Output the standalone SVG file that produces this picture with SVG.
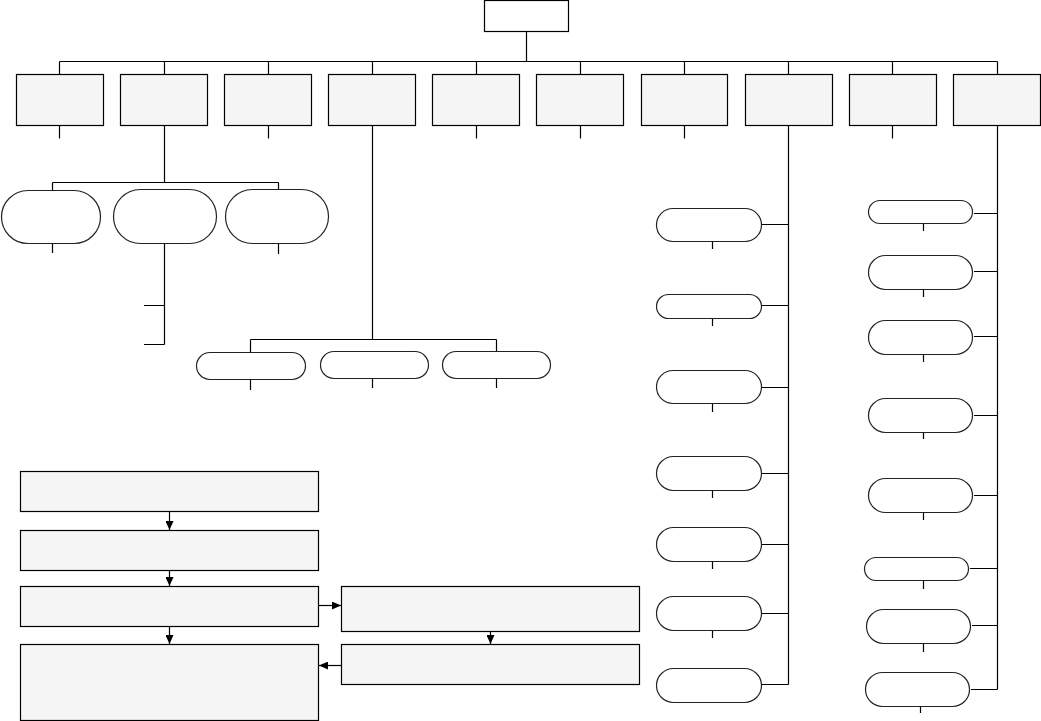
<svg xmlns="http://www.w3.org/2000/svg" width="1041" height="721" viewBox="0 0 1041 721">
<style>
.box{fill:#f5f5f5;stroke:#000;stroke-width:1.2}
.root{fill:#fff;stroke:#000;stroke-width:1.2}
.pill{fill:#fff;stroke:#222;stroke-width:1.2}
.ln{fill:none;stroke:#000;stroke-width:1.2}
</style>
<defs>
<marker id="ah" markerUnits="userSpaceOnUse" markerWidth="10" markerHeight="8" refX="9" refY="4" orient="auto">
<path d="M0,0 L9,4 L0,8 z" fill="#000"/>
</marker>
</defs>
<g id="connectors">
<path class="ln" d="M526.5,31.5V61.5 M59.5,61.5H997.5"/>
<path class="ln" d="M59.5,61.5V74.5 M164.5,61.5V74.5 M268.5,61.5V74.5 M372.5,61.5V74.5 M476.5,61.5V74.5 M580.5,61.5V74.5 M684.5,61.5V74.5 M788.5,61.5V74.5 M892.5,61.5V74.5 M997.5,61.5V74.5"/>
<path class="ln" d="M59.5,125.5V138.5 M268.5,125.5V138.5 M476.5,125.5V138.5 M580.5,125.5V138.5 M684.5,125.5V138.5 M892.5,125.5V138.5"/>
<path class="ln" d="M164.5,125.5V182.5 M52.5,182.5H278.5 M52.5,182.5V190.5 M278.5,182.5V189.5"/>
<path class="ln" d="M52.5,243.5V253 M278.5,243.5V254 M164.5,243.5V344.5 M144,305.5H164.5 M144,344.5H164.5"/>
<path class="ln" d="M372.5,125.5V339.5 M250.5,339.5H496.5 M250.5,339.5V352.5 M496.5,339.5V351.5 M250.5,379.5V390 M372.5,378.5V388 M496.5,378.5V388"/>
<path class="ln" d="M788.5,125.5V684.5 M762,224.5H788.5 M762,305.5H788.5 M762,387.5H788.5 M762,473.5H788.5 M762,544.5H788.5 M762,613.5H788.5 M762,684.5H788.5"/>
<path class="ln" d="M712.5,241.5V249 M712.5,318.5V326 M712.5,403.5V412 M712.5,490.5V498 M712.5,561.5V569 M712.5,630.5V638"/>
<path class="ln" d="M997.5,125.5V689.5 M974,213.5H997.5 M974,271.5H997.5 M974,336.5H997.5 M974,415.5H997.5 M974,495.5H997.5 M970,568.5H997.5 M972,625.5H997.5 M971,689.5H997.5"/>
<path class="ln" d="M923.5,223.5V231 M923.5,289.5V297 M923.5,354.5V362 M923.5,432.5V439 M923.5,512.5V520 M923.5,580.5V589 M923.5,643.5V652 M920.5,706.5V713"/>
<path class="ln" d="M169.5,511.5V530" marker-end="url(#ah)"/>
<path class="ln" d="M169.5,570.5V586" marker-end="url(#ah)"/>
<path class="ln" d="M169.5,626.5V644" marker-end="url(#ah)"/>
<path class="ln" d="M318.5,605.5H341" marker-end="url(#ah)"/>
<path class="ln" d="M490.5,627V644" marker-end="url(#ah)"/>
<path class="ln" d="M341.5,665.5H319" marker-end="url(#ah)"/>
</g>
<g id="root"><rect class="root" x="484.5" y="0.5" width="84" height="31"/></g>
<g id="top-boxes">
<g id="t1"><rect class="box" x="16.5" y="74.5" width="87" height="51"/></g>
<g id="t2"><rect class="box" x="120.5" y="74.5" width="87" height="51"/></g>
<g id="t3"><rect class="box" x="224.5" y="74.5" width="87" height="51"/></g>
<g id="t4"><rect class="box" x="328.5" y="74.5" width="87" height="51"/></g>
<g id="t5"><rect class="box" x="432.5" y="74.5" width="87" height="51"/></g>
<g id="t6"><rect class="box" x="536.5" y="74.5" width="87" height="51"/></g>
<g id="t7"><rect class="box" x="641.5" y="74.5" width="86" height="51"/></g>
<g id="t8"><rect class="box" x="745.5" y="74.5" width="87" height="51"/></g>
<g id="t9"><rect class="box" x="849.5" y="74.5" width="87" height="51"/></g>
<g id="t10"><rect class="box" x="953.5" y="74.5" width="87" height="51"/></g>
</g>
<g id="b2-children">
<g id="p2a"><rect class="pill" x="1.5" y="190.5" width="99" height="53" rx="26.5"/></g>
<g id="p2b"><rect class="pill" x="113.5" y="189.5" width="103" height="54" rx="27"/></g>
<g id="p2c"><rect class="pill" x="225.5" y="189.5" width="103" height="54" rx="27"/></g>
</g>
<g id="b4-children">
<g id="p4a"><rect class="pill" x="196.5" y="352.5" width="109" height="27" rx="13.5"/></g>
<g id="p4b"><rect class="pill" x="320.5" y="351.5" width="108" height="27" rx="13.5"/></g>
<g id="p4c"><rect class="pill" x="442.5" y="351.5" width="108" height="27" rx="13.5"/></g>
</g>
<g id="b8-children">
<g id="p8a"><rect class="pill" x="656.5" y="208.5" width="105" height="33" rx="16.5"/></g>
<g id="p8b"><rect class="pill" x="656.5" y="294.5" width="105" height="24" rx="12"/></g>
<g id="p8c"><rect class="pill" x="656.5" y="370.5" width="105" height="33" rx="16.5"/></g>
<g id="p8d"><rect class="pill" x="656.5" y="456.5" width="105" height="34" rx="17"/></g>
<g id="p8e"><rect class="pill" x="656.5" y="527.5" width="105" height="34" rx="17"/></g>
<g id="p8f"><rect class="pill" x="656.5" y="596.5" width="105" height="34" rx="17"/></g>
<g id="p8g"><rect class="pill" x="656.5" y="668.5" width="105" height="34" rx="17"/></g>
</g>
<g id="b10-children">
<g id="p10a"><rect class="pill" x="868.5" y="200.5" width="104" height="23" rx="11.5"/></g>
<g id="p10b"><rect class="pill" x="868.5" y="255.5" width="104" height="34" rx="17"/></g>
<g id="p10c"><rect class="pill" x="868.5" y="320.5" width="104" height="34" rx="17"/></g>
<g id="p10d"><rect class="pill" x="868.5" y="398.5" width="104" height="34" rx="17"/></g>
<g id="p10e"><rect class="pill" x="868.5" y="478.5" width="104" height="34" rx="17"/></g>
<g id="p10f"><rect class="pill" x="864.5" y="557.5" width="104" height="23" rx="11.5"/></g>
<g id="p10g"><rect class="pill" x="866.5" y="609.5" width="104" height="34" rx="17"/></g>
<g id="p10h"><rect class="pill" x="865.5" y="672.5" width="104" height="34" rx="17"/></g>
</g>
<g id="flow">
<g id="fA"><rect class="box" x="20.5" y="471.5" width="298" height="40"/></g>
<g id="fB"><rect class="box" x="20.5" y="530.5" width="298" height="40"/></g>
<g id="fC"><rect class="box" x="20.5" y="586.5" width="298" height="40"/></g>
<g id="fD"><rect class="box" x="20.5" y="644.5" width="298" height="76"/></g>
<g id="fE"><rect class="box" x="341.5" y="586.5" width="298" height="45"/></g>
<g id="fF"><rect class="box" x="341.5" y="644.5" width="298" height="40"/></g>
</g>
</svg>
